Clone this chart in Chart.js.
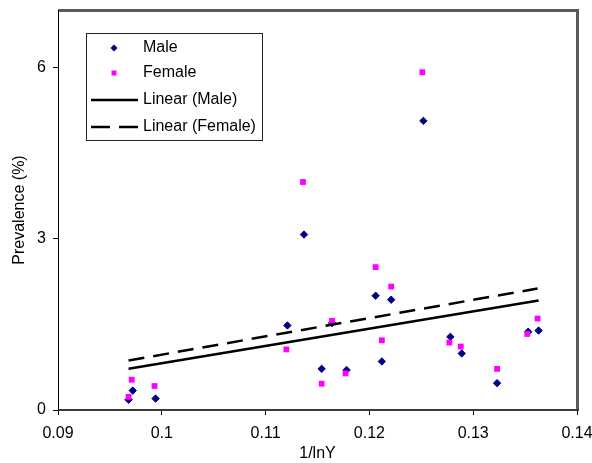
<!DOCTYPE html>
<html>
<head>
<meta charset="utf-8">
<script src="https://cdn.jsdelivr.net/npm/chart.js@4/dist/chart.umd.min.js"></script>
<style>
html,body{margin:0;padding:0;background:#fff;}
#wrap{width:592px;height:463px;position:relative;}
</style>
</head>
<body>
<div id="wrap"><canvas id="c" width="592" height="463"></canvas></div>
<script>
// ---- data ----
const maleX   = [0.0968, 0.0972, 0.0994, 0.1121, 0.1137, 0.1154, 0.1164, 0.1178, 0.1206, 0.1212, 0.1221, 0.1252, 0.1278, 0.1289, 0.1323, 0.1353, 0.1363];
const maleY   = [0.18,   0.34,   0.20,   1.48,   3.07,   0.72,   1.52,   0.70,   2.00,   0.85,   1.93,   5.06,   1.28,   0.99,   0.47,   1.37,   1.39];
const femaleX = [0.0968, 0.0971, 0.0993, 0.1120, 0.1136, 0.1154, 0.1164, 0.1177, 0.1206, 0.1212, 0.1221, 0.1251, 0.1277, 0.1288, 0.1323, 0.1352, 0.1362];
const femaleY = [0.23,   0.53,   0.42,   1.06,   3.99,   0.46,   1.56,   0.64,   2.50,   1.22,   2.16,   5.91,   1.18,   1.11,   0.72,   1.33,   1.60];
const xTicks = [0.09, 0.10, 0.11, 0.12, 0.13, 0.14];
const xTickLabels = ['0.09', '0.1', '0.11', '0.12', '0.13', '0.14'];
const yTicks = [0, 3, 6];
const seriesNames = ['Male', 'Female', 'Linear (Male)', 'Linear (Female)'];

function pts(xs, ys) { return xs.map((x, i) => ({x: x, y: ys[i]})); }
// least-squares trend line (as Excel's "Linear" trendline), spanning the data's x range
function trend(xs, ys) {
  const n = xs.length;
  const mx = xs.reduce((a, b) => a + b, 0) / n;
  const my = ys.reduce((a, b) => a + b, 0) / n;
  let sxy = 0, sxx = 0;
  for (let i = 0; i < n; i++) { sxy += (xs[i] - mx) * (ys[i] - my); sxx += (xs[i] - mx) * (xs[i] - mx); }
  const b = sxy / sxx, a = my - b * mx;
  const x0 = Math.min(...xs), x1 = Math.max(...xs);
  return [{x: x0, y: a + b * x0}, {x: x1, y: a + b * x1}];
}

const FONT = "'Liberation Sans', Arial, sans-serif";
Chart.defaults.font.family = FONT;
Chart.defaults.font.size = 16;
Chart.defaults.color = '#000';

const maleColor = '#000080';
const femaleColor = '#FF00FF';

function noPad(s) { s.paddingLeft = 0; s.paddingRight = 0; s.paddingTop = 0; s.paddingBottom = 0; }

const frame = {
  id: 'frame',
  afterDraw(chart) {
    const {ctx, chartArea: a} = chart;
    ctx.save();
    // plot area border (Excel style)
    ctx.strokeStyle = '#5a5a5a';
    ctx.lineWidth = 3;
    ctx.beginPath();
    ctx.moveTo(a.left, a.top + 0.5);
    ctx.lineTo(a.right + 0.5, a.top + 0.5);
    ctx.lineTo(a.right + 0.5, a.bottom);
    ctx.stroke();
    ctx.strokeStyle = '#3a3a3a';
    ctx.lineWidth = 2;
    ctx.beginPath();
    ctx.moveTo(a.left, a.bottom);
    ctx.lineTo(a.right + 2, a.bottom);
    ctx.stroke();
    ctx.strokeStyle = '#000';
    ctx.lineWidth = 1;
    ctx.beginPath();
    ctx.moveTo(a.left + 0.5, a.top);
    ctx.lineTo(a.left + 0.5, a.bottom);
    ctx.stroke();

    // legend box
    const lx = a.left + 28, ly = a.top + 23, lw = 176, lh = 107;
    ctx.fillStyle = '#fff';
    ctx.fillRect(lx, ly, lw, lh);
    ctx.strokeStyle = '#222';
    ctx.lineWidth = 1;
    ctx.strokeRect(lx + 0.5, ly + 0.5, lw, lh);
    const rowY = [ly + 15, ly + 40, ly + 67, ly + 94];
    const textX = lx + 57;
    const mx = lx + 28;
    // Male marker
    ctx.fillStyle = maleColor;
    ctx.beginPath();
    ctx.moveTo(mx, rowY[0] - 3.5); ctx.lineTo(mx + 3.5, rowY[0]); ctx.lineTo(mx, rowY[0] + 3.5); ctx.lineTo(mx - 3.5, rowY[0]);
    ctx.closePath(); ctx.fill();
    // Female marker
    ctx.fillStyle = femaleColor;
    ctx.fillRect(mx - 2.5, rowY[1] - 2.5, 5, 5);
    // lines
    ctx.strokeStyle = '#000';
    ctx.lineWidth = 2.5;
    ctx.beginPath(); ctx.moveTo(lx + 5, rowY[2]); ctx.lineTo(lx + 52, rowY[2]); ctx.stroke();
    ctx.setLineDash([19, 9]);
    ctx.beginPath(); ctx.moveTo(lx + 5, rowY[3]); ctx.lineTo(lx + 52, rowY[3]); ctx.stroke();
    ctx.setLineDash([]);
    ctx.fillStyle = '#000';
    ctx.font = '16px ' + FONT;
    ctx.textBaseline = 'middle';
    ctx.textAlign = 'left';
    seriesNames.forEach((s, i) => ctx.fillText(s, textX, rowY[i]));
    ctx.restore();
  }
};

new Chart(document.getElementById('c'), {
  type: 'scatter',
  data: {
    datasets: [
      { label: seriesNames[0], data: pts(maleX, maleY), pointStyle: 'rectRot', pointRadius: 3.7,
        backgroundColor: maleColor, borderColor: maleColor, borderWidth: 1, order: 4 },
      { label: seriesNames[1], data: pts(femaleX, femaleY), pointStyle: 'rect', pointRadius: 4.1,
        backgroundColor: femaleColor, borderColor: femaleColor, borderWidth: 0, order: 3 },
      { label: seriesNames[2], type: 'line', data: trend(maleX, maleY), showLine: true, pointRadius: 0,
        borderColor: '#000', borderWidth: 2.5, fill: false, order: 2 },
      { label: seriesNames[3], type: 'line', data: trend(femaleX, femaleY), showLine: true, pointRadius: 0,
        borderColor: '#000', borderWidth: 2.5, borderDash: [16, 9], fill: false, order: 1 }
    ]
  },
  options: {
    responsive: false,
    animation: false,
    events: [],
    layout: { autoPadding: false, padding: { top: 10, right: 15, left: 0, bottom: 0 } },
    plugins: { legend: { display: false }, tooltip: { enabled: false } },
    scales: {
      x: {
        type: 'linear', min: 0.09, max: 0.14,
        afterBuildTicks(s) { s.ticks = xTicks.map(v => ({value: v})); },
        afterFit(s) { s.height = 53; noPad(s); },
        ticks: { padding: 9, maxRotation: 0, autoSkip: false,
          callback: (v) => { const i = xTicks.findIndex(t => Math.abs(t - v) < 1e-9); return i >= 0 ? xTickLabels[i] : ''; } },
        grid: { drawOnChartArea: false, drawTicks: true, tickLength: 5, color: '#000' },
        border: { display: false },
        title: { display: true, text: '1/lnY', padding: { top: 0, bottom: 0 } }
      },
      y: {
        type: 'linear', min: 0, max: 7,
        afterBuildTicks(s) { s.ticks = yTicks.map(v => ({value: v})); },
        afterFit(s) { s.width = 58; noPad(s); },
        ticks: { padding: 7, autoSkip: false, callback: (v) => String(v) },
        grid: { drawOnChartArea: false, drawTicks: true, tickLength: 5, color: '#000' },
        border: { display: false },
        title: { display: true, text: 'Prevalence (%)', padding: { top: 10, bottom: 0 } }
      }
    }
  },
  plugins: [frame]
});
</script>
</body>
</html>
